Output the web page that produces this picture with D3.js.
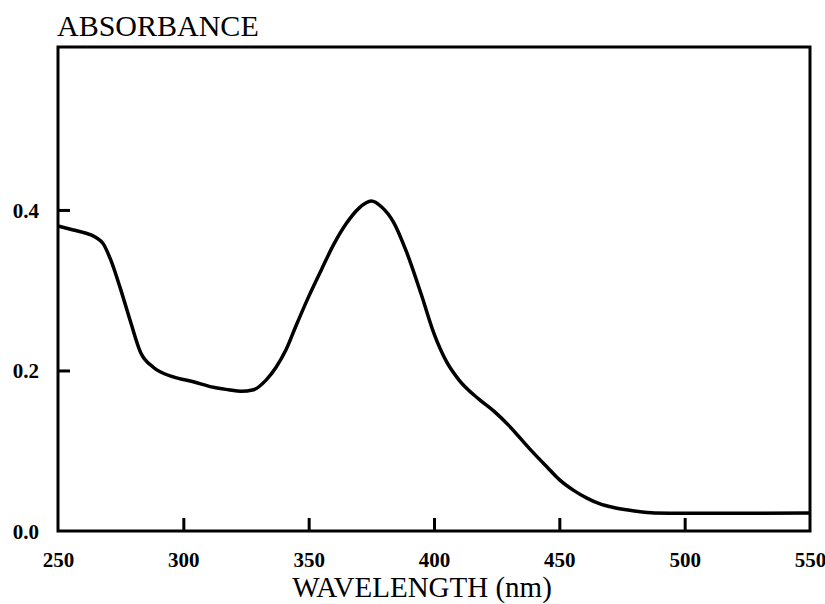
<!DOCTYPE html>
<html>
<head>
<meta charset="utf-8">
<script src="https://cdn.jsdelivr.net/npm/d3@7"></script>
<style>
  html, body { margin: 0; padding: 0; background: #fff; }
  svg { display: block; }
</style>
</head>
<body>
<svg id="chart" width="825" height="604"></svg>
<script>
const wavelength = [250, 255, 260, 265, 268, 271, 275, 279, 283, 288, 296, 304, 312, 318, 323, 328, 333, 337, 341, 345, 350, 355, 360, 365, 370, 375, 379, 384, 389, 395, 400, 405, 410, 418, 424, 430, 438, 445, 450, 456, 461, 466, 472, 480, 488, 500, 520, 550];
const absorbance = [0.380, 0.376, 0.372, 0.366, 0.358, 0.338, 0.301, 0.260, 0.222, 0.204, 0.192, 0.186, 0.179, 0.176, 0.174, 0.176, 0.188, 0.204, 0.226, 0.256, 0.292, 0.325, 0.357, 0.383, 0.402, 0.411, 0.404, 0.384, 0.348, 0.294, 0.246, 0.211, 0.188, 0.164, 0.149, 0.131, 0.103, 0.080, 0.064, 0.050, 0.041, 0.034, 0.029, 0.025, 0.0225, 0.022, 0.022, 0.0225];
const xTicks = [250, 300, 350, 400, 450, 500, 550];
const yTicks = [0.0, 0.2, 0.4];
const yTitle = "ABSORBANCE";
const xTitle = "WAVELENGTH (nm)";

(function () {
  const data = wavelength.map((w, i) => ({ w, a: absorbance[i] }));

  const pLeft = 58, pRight = 810, pTop = 47, pBottom = 531;
  const svg = d3.select("#chart");
  const x = d3.scaleLinear().domain([250, 550]).range([pLeft, pRight]);
  const y = d3.scaleLinear().domain([0, 0.603]).range([pBottom, pTop]);
  const serif = "'Liberation Serif', 'Times New Roman', serif";

  // Frame
  svg.append("rect")
    .attr("x", pLeft).attr("y", pTop)
    .attr("width", pRight - pLeft).attr("height", pBottom - pTop)
    .attr("fill", "none").attr("stroke", "#000").attr("stroke-width", 3);

  // X ticks (inward)
  const xAxis = d3.axisBottom(x).tickValues(xTicks).tickSize(-13).tickPadding(0).tickFormat(d3.format("d"));
  const gx = svg.append("g").attr("transform", `translate(0,${pBottom})`).call(xAxis);
  gx.select(".domain").remove();
  gx.selectAll(".tick line").attr("stroke", "#000").attr("stroke-width", 3)
    .attr("display", d => (d === 250 || d === 550) ? "none" : null);
  gx.selectAll(".tick text")
    .attr("y", 36).attr("dy", 0)
    .attr("font-family", serif)
    .attr("font-weight", "bold").attr("font-size", 21).attr("fill", "#000");

  // Y ticks (inward)
  const yAxis = d3.axisLeft(y).tickValues(yTicks).tickSize(-12).tickPadding(0).tickFormat(d3.format(".1f"));
  const gy = svg.append("g").attr("transform", `translate(${pLeft},0)`).call(yAxis);
  gy.select(".domain").remove();
  gy.selectAll(".tick line").attr("stroke", "#000").attr("stroke-width", 3)
    .attr("display", d => d === 0 ? "none" : null);
  gy.selectAll(".tick text")
    .attr("x", -19).attr("dy", "0.35em")
    .attr("font-family", serif)
    .attr("font-weight", "bold").attr("font-size", 21).attr("fill", "#000");

  // Curve
  const line = d3.line().x(d => x(d.w)).y(d => y(d.a)).curve(d3.curveMonotoneX);
  svg.append("path").datum(data)
    .attr("d", line).attr("fill", "none")
    .attr("stroke", "#000").attr("stroke-width", 3.5)
    .attr("stroke-linejoin", "round");

  // Titles
  svg.append("text").attr("x", 57).attr("y", 36)
    .attr("font-family", serif)
    .attr("font-size", 30).attr("fill", "#000").text(yTitle);

  svg.append("text").attr("x", 422).attr("y", 597).attr("text-anchor", "middle")
    .attr("font-family", serif)
    .attr("font-size", 29).attr("fill", "#000").text(xTitle);
})();
</script>
</body>
</html>
